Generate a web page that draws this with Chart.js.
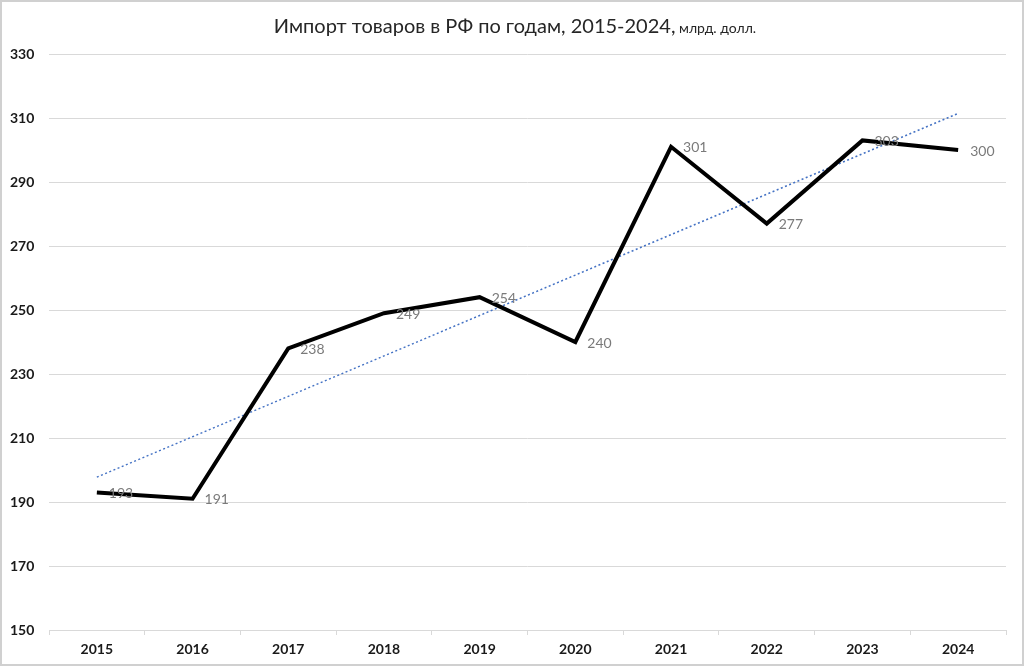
<!DOCTYPE html>
<html><head><meta charset="utf-8">
<script src="https://cdn.jsdelivr.net/npm/chart.js@4"></script>
<style>html,body{margin:0;padding:0;background:#fff}#wrap{width:1024px;height:666px;position:relative}</style>
</head><body><div id="wrap"><canvas id="c" width="1024" height="666"></canvas></div>
<script>
const categories = ['2015','2016','2017','2018','2019','2020','2021','2022','2023','2024'];
const importValues = [193, 191, 238, 249, 254, 240, 301, 277, 303, 300];
const yTicks = [150, 170, 190, 210, 230, 250, 270, 290, 310, 330];
const titleMain = 'Импорт товаров в РФ по годам, 2015-2024,';
const titleUnit = ' млрд. долл.';

// linear trend (least squares) computed from the data
function linearTrend(vals){
  const n = vals.length; let sx=0, sy=0, sxy=0, sxx=0;
  vals.forEach((v,i)=>{sx+=i; sy+=v; sxy+=i*v; sxx+=i*i;});
  const b = (n*sxy - sx*sy)/(n*sxx - sx*sx); const a = (sy - b*sx)/n;
  return vals.map((_,i)=>a+b*i);
}
const trendValues = linearTrend(importValues);

const frame = {id:'frame', beforeDraw(ch){const c=ch.ctx;c.save();c.fillStyle='#fff';c.fillRect(0,0,ch.width,ch.height);c.strokeStyle='#d0d0d0';c.lineWidth=2;c.strokeRect(1,1,ch.width-2,ch.height-2);c.restore();}};
const titlePlugin = {id:'titleMix', afterDraw(ch){
  const c=ch.ctx; c.save();
  const f1='20px Lato', f2='14px Lato';
  c.font=f1; const w1=c.measureText(titleMain).width; c.font=f2; const w2=c.measureText(titleUnit).width;
  const x0=(ch.width - w1 - w2)/2 + 3, y=33;
  c.fillStyle='#262626'; c.textBaseline='alphabetic'; c.textAlign='left';
  c.font=f1; c.fillText(titleMain,x0,y); c.font=f2; c.fillText(titleUnit,x0+w1,y);
  c.restore();
}};
const labelPlugin = {id:'valLabels', afterDatasetsDraw(ch){
  const meta=ch.getDatasetMeta(0); const c=ch.ctx; c.save();
  c.font='14px Lato'; c.fillStyle='#7a7a7a'; c.textAlign='left'; c.textBaseline='middle';
  meta.data.forEach((p,i)=>{c.fillText(String(importValues[i]), p.x+12, p.y+1);});
  c.restore();
}};

new Chart(document.getElementById('c'), {
  type:'line',
  data:{labels:categories, datasets:[
    {label:'Импорт', data:importValues, borderColor:'#000', borderWidth:4, pointRadius:0, tension:0, order:1},
    {label:'Линейная (Импорт)', data:trendValues, borderColor:'#4472c4', borderWidth:1.5, borderDash:[2,2.5], pointRadius:0, tension:0, order:2}
  ]},
  options:{
    responsive:false, animation:false, devicePixelRatio:1,
    layout:{padding:{left:10,right:18,top:54,bottom:0}},
    plugins:{legend:{display:false}, title:{display:false}, tooltip:{enabled:false}},
    scales:{
      x:{offset:true,
        grid:{display:true, drawOnChartArea:false, drawTicks:true, tickLength:5, offset:true, color:'#d9d9d9'},
        border:{display:true,color:'#d9d9d9'},
        ticks:{color:'#1a1a1a', font:{family:'Lato', size:14, weight:'bold'}, padding:6, maxRotation:0},
        afterFit(s){s.height=36;}
      },
      y:{min:150,max:330,
        afterBuildTicks(s){s.ticks=yTicks.map(v=>({value:v}));},
        grid:{color:'#d9d9d9', drawTicks:false, lineWidth:1},
        border:{display:false},
        ticks:{color:'#1a1a1a', font:{family:'Lato', size:14, weight:'bold'}, crossAlign:'far', padding:0},
        afterFit(s){s.width=39;}
      }
    }
  },
  plugins:[frame,titlePlugin,labelPlugin]
});
</script></body></html>
